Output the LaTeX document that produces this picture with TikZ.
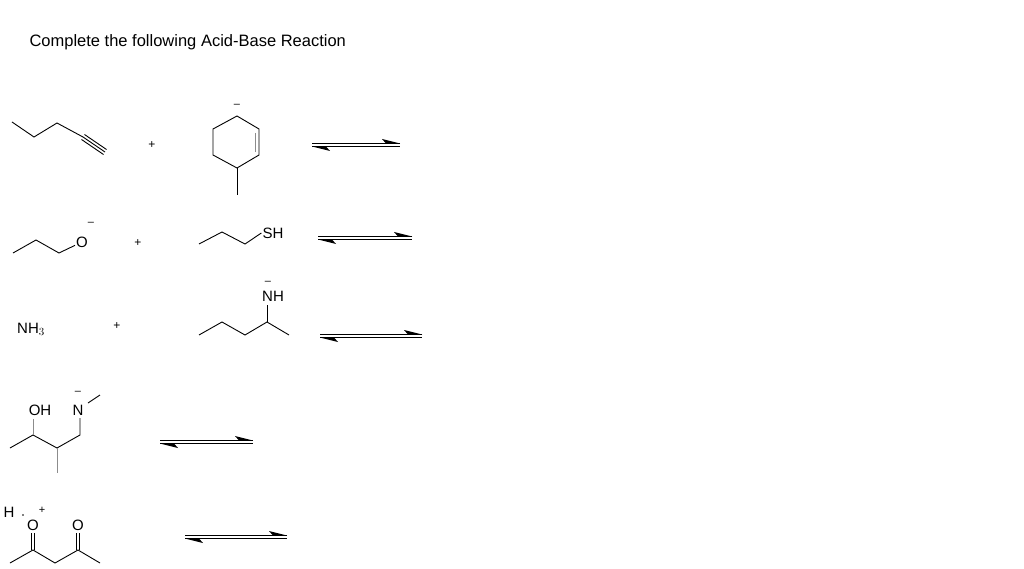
\documentclass[tikz,border=0pt]{standalone}
\usepackage{fontspec}
\setmainfont{Liberation Sans}
\usetikzlibrary{positioning}
\tikzstyle{bond}=[line width=0.9pt]
\tikzstyle{gbond}=[line width=0.9pt,draw=black!45]
\tikzstyle{atom}=[inner sep=1pt,font=\fontsize{15}{15}\selectfont]
\tikzstyle{charge}=[inner sep=0pt,font=\fontsize{11}{11}\selectfont]
\tikzstyle{plus}=[inner sep=0pt,font=\fontsize{12}{12}\selectfont]
\newcommand{\eqarrows}[3]{%
  \draw[line width=0.9pt] (#1,#3-1.5) -- (#2,#3-1.5);
  \fill (#2,#3-1.5) -- (#2-18,#3-6) -- (#2-14,#3-1.5) -- cycle;
  \draw[line width=0.9pt] (#1,#3+1.5) -- (#2,#3+1.5);
  \fill (#1,#3+1.5) -- (#1+18,#3+6) -- (#1+14,#3+1.5) -- cycle;}
\begin{document}
\begin{tikzpicture}[x=1pt,y=-1pt]
            \useasboundingbox (0,0) rectangle (1024,569);
            \node[anchor=west,font=\fontsize{16.5}{16.5}\selectfont] (title) at (26,42) {Complete the following Acid-Base Reaction};

            % pentyne + carbanion
            \draw[bond] (12,122) -- (34,137) -- (57,123) -- (83,137);
            \draw[bond] (83,137) -- (105,152);
            \draw[bond] (84.5,134.5) -- (106.5,149.5);
            \draw[bond] (81.5,139.5) -- (103.5,154.5);
            \node[plus] (p1) at (152,145) {+};
            \draw[bond] (237,116) -- (259,129) -- (259,155) -- (237,168) -- (213,155) -- (213,129) -- cycle;
            \draw[gbond] (255,133) -- (255,152);
            \draw[bond] (237,168) -- (237,195);
            \node[charge] (m1) at (237,106) {--};
            \eqarrows{312}{400}{145}

            % propoxide + propanethiol
            \node[atom] (o1) at (82,242) {O};
            \draw[bond] (13,253) -- (36,240) -- (59,253) -- (o1);
            \node[charge] (m2) at (91,224) {--};
            \node[plus] (p2) at (138,243) {+};
            \node[atom] (s1) at (273,233) {SH};
            \draw[bond] (199,244) -- (222,232) -- (245,244) -- (s1.west);
            \eqarrows{318}{412}{238}

            % ammonia + amide
            \node[atom] (n1) at (31,329) {NH$_3$};
            \node[plus] (p3) at (117,326) {+};
            \node[atom] (n2) at (273,296) {NH};
            \node[charge] (m3) at (268,283) {--};
            \draw[bond] (199,335) -- (222,322) -- (245,335) -- (267,322) -- (289,335);
            \draw[bond] (267,322) -- (267,305);
            \eqarrows{320}{422}{336}

            % amino alcohol
            \node[atom] (oh) at (40,410) {OH};
            \node[atom] (n3) at (78,410) {N};
            \node[charge] (m4) at (78,393) {--};
            \draw[bond] (10,448) -- (33,435) -- (57,448) -- (80,435) -- (80,418);
            \draw[gbond] (33,435) -- (33,419);
            \draw[gbond] (57,448) -- (57,473);
            \draw[bond] (88,403) -- (100,395);
            \eqarrows{160}{253}{442}

            % protonated diketone
            \node[atom] (h1) at (9,512) {H};
            \node[atom] (o2) at (33,525) {O};
            \node[charge] (m5) at (42,510) {+};
            \fill (23,515) circle (0.8);
            \node[atom] (o3) at (78,525) {O};
            \draw[bond] (10,563) -- (33,550) -- (55,563) -- (78,550) -- (100,563);
            \draw[bond] (31.5,550) -- (31.5,533);
            \draw[bond] (34.5,550) -- (34.5,533);
            \draw[bond] (76.5,550) -- (76.5,533);
            \draw[bond] (79.5,550) -- (79.5,533);
            \eqarrows{185}{287}{537}
\end{tikzpicture}
\end{document}
